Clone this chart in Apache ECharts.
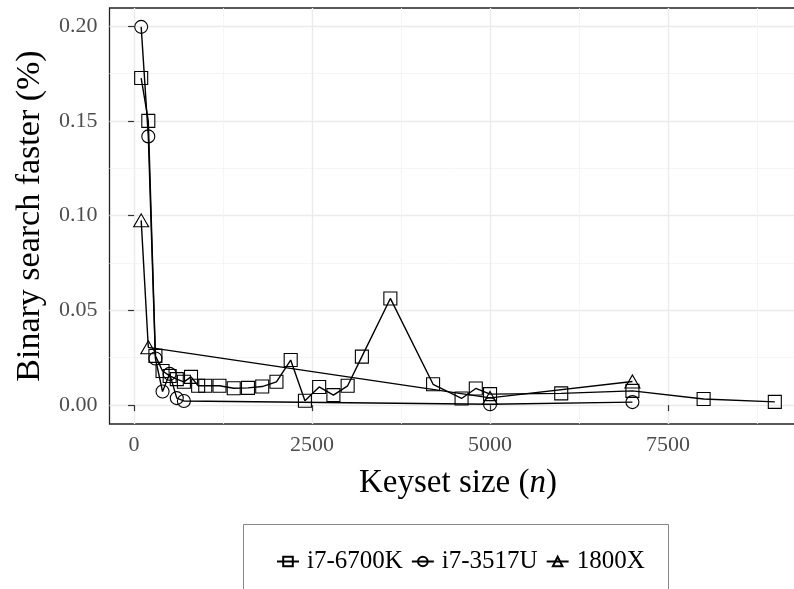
<!DOCTYPE html>
<html>
<head>
<meta charset="utf-8">
<script src="https://cdn.jsdelivr.net/npm/echarts@6/dist/echarts.min.js"></script>
<style>
  html, body { margin: 0; padding: 0; background: #fff; }
  #chart { width: 794px; height: 589px; }
</style>
</head>
<body>
<div id="chart"></div>
<script>
// keyset sizes and measured gain for each cpu
const keysetA = [100, 200, 300, 400, 500, 600, 700, 800, 900, 1000, 1200, 1400, 1600, 1800, 2000,
  2200, 2400, 2600, 2800, 3000, 3200, 3600, 4200, 4600, 4800, 5000, 6000, 7000, 8000, 9000];
const fasterA = [0.1726, 0.150, 0.026, 0.018, 0.0154, 0.0137, 0.0123, 0.0149, 0.0102, 0.0102, 0.0102,
  0.0089, 0.0091, 0.0098, 0.0123, 0.0238, 0.0023, 0.0096, 0.0053, 0.0102, 0.0256, 0.0563, 0.011,
  0.0035, 0.0088, 0.0058, 0.0062, 0.0075, 0.0032, 0.0017];
const keysetB = [100, 200, 300, 400, 500, 600, 700, 5000, 7000];
const fasterB = [0.1996, 0.1418, 0.0246, 0.0072, 0.0165, 0.0037, 0.0022, 0.0005, 0.0016];
const keysetC = [100, 200, 5000, 7000];
const fasterC = [0.0975, 0.0305, 0.0038, 0.0125];

const seriesNames = ['i7-6700K', 'i7-3517U', '1800X'];
const xTicks = [0, 2500, 5000, 7500];
const xMinorTicks = [1250, 3750, 6250, 8750];
const yTicks = [0, 0.05, 0.10, 0.15, 0.20];
const yMinorTicks = [0.025, 0.075, 0.125, 0.175];

const font = '"Liberation Serif", "DejaVu Serif", serif';
const xMin = -345, xMax = 9445;
const yMin = -0.00996, yMax = 0.20956;

function pairs (xs, ys) {
  return xs.map((x, i) => [x, ys[i]]);
}

function makeSeries (name, xs, ys, symbol, size) {
  return {
    name: name,
    type: 'line',
    data: pairs(xs, ys),
    symbol: symbol,
    symbolSize: size,
    showAllSymbol: true,
    lineStyle: { color: '#000', width: 1.4 },
    itemStyle: { color: 'rgba(0,0,0,0)', borderColor: '#000', borderWidth: 1.1 },
    emphasis: { disabled: true },
    animation: false
  };
}

const chart = echarts.init(document.getElementById('chart'));
const option = {
  animation: false,
  grid: {
    left: 109.5,
    right: -12.5,
    top: 8,
    bottom: 165,
    outerBoundsMode: 'none',
    containLabel: false,
    show: true,
    borderColor: '#222',
    borderWidth: 1.3,
    backgroundColor: '#fff'
  },
  graphic: [{
    type: 'rect',
    shape: { x: 243.5, y: 524.5, width: 425, height: 80 },
    style: { fill: '#fff', stroke: '#888', lineWidth: 1 },
    z: 0
  }],
  legend: {
    left: 271,
    top: 544,
    itemWidth: 22,
    itemHeight: 12,
    itemGap: 8,
    data: seriesNames,
    textStyle: { fontFamily: font, fontSize: 25, color: '#000', padding: [0, 0, 0, 3] },
    selectedMode: false
  },
  xAxis: [{
    type: 'value',
    min: xMin,
    max: xMax,
    name: '{a|Keyset size (}{i|n}{a|)}',
    nameLocation: 'middle',
    nameGap: 43,
    nameTextStyle: {
      rich: {
        a: { fontFamily: font, fontSize: 33, color: '#000' },
        i: { fontFamily: font, fontSize: 33, fontStyle: 'italic', color: '#000' }
      }
    },
    axisLine: { show: false },
    axisTick: { show: true, length: 6, customValues: xTicks, lineStyle: { color: '#333', width: 1.2 } },
    axisLabel: {
      customValues: xTicks,
      fontFamily: font,
      fontSize: 22,
      color: '#4d4d4d',
      margin: 10,
      formatter: v => String(v)
    },
    splitLine: { show: true, lineStyle: { color: '#ebebeb', width: 1.4 } }
  }, {
    type: 'value',
    min: xMin,
    max: xMax,
    gridIndex: 0,
    position: 'bottom',
    axisLine: { show: false },
    axisTick: { show: false, customValues: xMinorTicks },
    axisLabel: { show: false, customValues: xMinorTicks },
    splitLine: { show: true, lineStyle: { color: '#f2f2f2', width: 0.8 } }
  }],
  yAxis: [{
    type: 'value',
    min: yMin,
    max: yMax,
    name: 'Binary search faster (%)',
    nameLocation: 'middle',
    nameGap: 62,
    nameTextStyle: { fontFamily: font, fontSize: 34, color: '#000' },
    axisLine: { show: false },
    axisTick: { show: true, length: 6, customValues: yTicks, lineStyle: { color: '#333', width: 1.2 } },
    axisLabel: {
      customValues: yTicks,
      fontFamily: font,
      fontSize: 22,
      color: '#4d4d4d',
      margin: 12,
      formatter: v => v.toFixed(2)
    },
    splitLine: { show: true, lineStyle: { color: '#ebebeb', width: 1.4 } }
  }, {
    type: 'value',
    min: yMin,
    max: yMax,
    position: 'left',
    axisLine: { show: false },
    axisTick: { show: false, customValues: yMinorTicks },
    axisLabel: { show: false, customValues: yMinorTicks },
    splitLine: { show: true, lineStyle: { color: '#f2f2f2', width: 0.8 } }
  }],
  series: [
    makeSeries(seriesNames[0], keysetA, fasterA, 'rect', 13),
    makeSeries(seriesNames[1], keysetB, fasterB, 'circle', 13),
    makeSeries(seriesNames[2], keysetC, fasterC, 'triangle', [15, 13])
  ]
};
chart.setOption(option);
</script>
</body>
</html>
